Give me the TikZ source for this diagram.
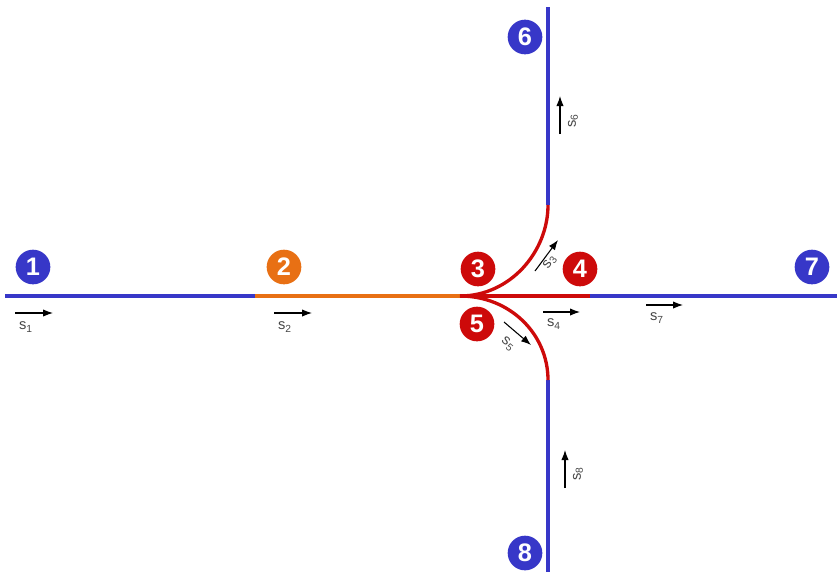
\documentclass[tikz,border=0pt]{standalone}
\usepackage{fontspec}
\setmainfont{Liberation Sans}
\usetikzlibrary{arrows.meta}
\definecolor{rblue}{RGB}{55,55,200}
\definecolor{rorange}{RGB}{232,112,20}
\definecolor{rred}{RGB}{205,10,10}
\definecolor{lgray}{RGB}{70,70,70}
\begin{document}
\begin{tikzpicture}[x=0.75pt,y=-0.75pt,
  num/.style={circle,inner sep=0pt,minimum size=26pt,text=white,font=\fontsize{19}{19}\selectfont\bfseries},
  bluenum/.style={num,fill=rblue},
  rednum/.style={num,fill=rred},
  orangenum/.style={num,fill=rorange},
  track/.style={line width=2.5pt},
  sarrow/.style={-{Latex[length=7.5pt,width=5.5pt]},line width=0.8pt,black},
  slabel/.style={text=lgray,font=\fontsize{11}{12}\selectfont,inner sep=0.5pt}]
\useasboundingbox (0,0) rectangle (837,576);
% coordinates
\coordinate (L) at (5,296);
\coordinate (A) at (255,296);
\coordinate (J) at (460,296);
\coordinate (B) at (590,296);
\coordinate (R) at (837,296);
\coordinate (T) at (548,7);
\coordinate (TU) at (548,205);
\coordinate (BD) at (548,380);
\coordinate (BT) at (548,572);
% tracks
\draw[track,rblue] (L) -- (A);
\draw[track,rorange] (A) -- (J);
\draw[track,rred] (J) -- (B);
\draw[track,rblue] (B) -- (R);
\draw[track,rblue] (T) -- (TU);
\draw[track,rblue] (BD) -- (BT);
\draw[track,rred] (J) .. controls (510,296) and (548,252) .. (TU);
\draw[track,rred] (J) .. controls (510,296) and (548,334) .. (BD);
% numbers
\node[bluenum] (n1) at (33,267) {1};
\node[orangenum] (n2) at (284,267) {2};
\node[rednum] (n3) at (478,269) {3};
\node[rednum] (n4) at (580,269) {4};
\node[rednum] (n5) at (477,324) {5};
\node[bluenum] (n6) at (525,37) {6};
\node[bluenum] (n7) at (812,267) {7};
\node[bluenum] (n8) at (525,553) {8};
% direction arrows
\coordinate (a1s) at (15,313); \coordinate (a1e) at (53,313);
\draw[sarrow] (a1s) -- (a1e);
\node[slabel] (l1) at (26,327) {s\textsubscript{1}};
\coordinate (a2s) at (274,313); \coordinate (a2e) at (312,313);
\draw[sarrow] (a2s) -- (a2e);
\node[slabel] (l2) at (285,327) {s\textsubscript{2}};
\coordinate (a4s) at (543,312); \coordinate (a4e) at (580,312);
\draw[sarrow] (a4s) -- (a4e);
\node[slabel] (l4) at (554,324) {s\textsubscript{4}};
\coordinate (a7s) at (646,305); \coordinate (a7e) at (683,305);
\draw[sarrow] (a7s) -- (a7e);
\node[slabel] (l7) at (657,318) {s\textsubscript{7}};
\coordinate (a3s) at (535,271); \coordinate (a3e) at (558,240);
\draw[sarrow] (a3s) -- (a3e);
\node[slabel,rotate=54] (l3) at (550,262) {s\textsubscript{3}};
\coordinate (a5s) at (504,322); \coordinate (a5e) at (531,345);
\draw[sarrow] (a5s) -- (a5e);
\node[slabel,rotate=-40] (l5) at (508,344) {s\textsubscript{5}};
\coordinate (a6s) at (560,134); \coordinate (a6e) at (560,96);
\draw[sarrow] (a6s) -- (a6e);
\node[slabel,rotate=90] (l6) at (573,121) {s\textsubscript{6}};
\coordinate (a8s) at (565,488); \coordinate (a8e) at (565,450);
\draw[sarrow] (a8s) -- (a8e);
\node[slabel,rotate=90] (l8) at (578,474) {s\textsubscript{8}};
\end{tikzpicture}
\end{document}
